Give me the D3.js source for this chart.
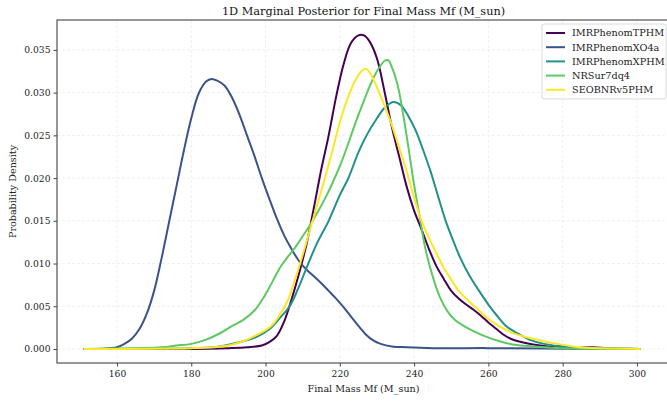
<!DOCTYPE html>
<html>
<head>
<meta charset="utf-8">
<script src="https://cdn.jsdelivr.net/npm/d3@7"></script>
<style>
  body { margin: 0; background: #fff; }
  svg { display: block; font-family: "DejaVu Serif", serif; }
</style>
</head>
<body>
<svg id="chart" width="667" height="401"></svg>
<script>
// series names (legend order)
const seriesNames = ["IMRPhenomTPHM", "IMRPhenomXO4a", "IMRPhenomXPHM", "NRSur7dq4", "SEOBNRv5PHM"];
const seriesColors = ["#440154", "#3b528b", "#21918c", "#5ec962", "#fde725"];

const xTicks = [160, 180, 200, 220, 240, 260, 280, 300];
const yTicks = [0, 0.005, 0.010, 0.015, 0.020, 0.025, 0.030, 0.035];

// [final mass, density]
const tphm = [[151,0],[180,0],[190,0.0001],[195,0.0002],[199,0.0004],[201,0.0008],[203,0.0015],[205,0.0032],
  [207,0.0058],[209,0.0088],[211,0.0122],[213,0.0165],[215,0.0210],[217,0.0250],[219,0.0295],[221,0.0333],
  [223,0.0358],[225,0.0367],[226.5,0.0367],[228,0.0360],[230,0.0340],[232,0.0302],[234,0.0260],[236,0.0225],
  [238,0.0190],[240,0.0162],[242,0.0140],[244,0.0117],[246,0.0097],[248,0.0082],[250,0.0068],[252,0.0059],
  [254,0.0052],[256,0.0046],[258,0.0039],[260,0.0031],[262,0.0024],[264,0.0017],[266,0.0012],[268,0.0009],
  [270,0.0007],[274,0.0004],[278,0.0002],[282,0.0001],[288,0.0002],[292,0.0001],[301,0]];

const xo4a = [[151,0],[155,0],[158,0.0001],[160,0.0002],[162,0.0006],[164,0.0012],[166,0.0023],[168,0.0041],
  [170,0.0068],[172,0.0106],[174,0.0148],[176,0.0190],[178,0.0232],[180,0.0270],[182,0.0299],[184,0.0313],
  [185.5,0.0316],[187,0.0314],[189,0.0308],[191,0.0294],[193,0.0274],[195,0.0250],[197,0.0226],[199,0.0200],
  [201,0.0176],[203,0.0153],[205,0.0133],[207,0.0117],[209,0.0103],[211,0.0093],[213,0.0085],[215,0.0077],
  [217,0.0068],[219,0.0059],[221,0.0049],[223,0.0038],[225,0.0027],[227,0.0017],[229,0.0010],[231,0.0006],
  [234,0.0003],[238,0.0002],[245,0.0001],[260,0.0001],[275,0.00005],[290,0],[301,0]];

const xphm = [[151,0],[180,0.0001],[186,0.0002],[190,0.0005],[194,0.0009],[198,0.0015],[201,0.0023],[204,0.0037],
  [206.5,0.0050],[209,0.0073],[211.5,0.0100],[214,0.0125],[217,0.0150],[220,0.0180],[222.3,0.0200],[225,0.0230],
  [227.2,0.0250],[230,0.0270],[232,0.0282],[234.4,0.0289],[236.5,0.0285],[238.5,0.0272],[240.5,0.0255],
  [242.5,0.0232],[244.5,0.0207],[246.5,0.0178],[248.5,0.0150],[250.5,0.0127],[252.5,0.0106],[255,0.0085],
  [257.5,0.0068],[260,0.0052],[262.5,0.0038],[265,0.0026],[268,0.0018],[271,0.0011],[275,0.0006],[280,0.0003],
  [285,0.0001],[290,0.0001],[301,0]];

const nrsur = [[151,0],[165,0.0001],[172,0.0002],[176,0.0004],[180,0.0006],[184,0.0011],[188,0.0019],[191,0.0027],
  [194,0.0034],[197,0.0045],[200,0.0064],[202,0.0080],[204,0.0096],[206,0.0108],[208,0.0119],[210,0.0132],
  [212,0.0145],[214,0.0160],[216,0.0176],[218,0.0194],[220,0.0214],[222,0.0237],[224,0.0262],[226,0.0285],
  [228,0.0307],[230,0.0325],[232,0.0337],[233,0.0338],[234,0.0330],[235.5,0.0310],[237,0.0276],[238.5,0.0235],
  [240,0.0192],[241.5,0.0155],[243,0.0118],[245,0.0085],[247,0.0060],[249,0.0044],[251,0.0034],[253,0.0028],
  [256,0.0021],[259,0.0015],[263,0.0009],[267,0.0005],[272,0.0003],[280,0.0001],[301,0]];

const seob = [[151,0],[180,0.0001],[186,0.0002],[190,0.0004],[194,0.0009],[197,0.0015],[200,0.0022],[202,0.0029],
  [204,0.0041],[206,0.0057],[208,0.0082],[210,0.0110],[212,0.0140],[214,0.0170],[216,0.0200],[218,0.0232],
  [220,0.0265],[222,0.0292],[224,0.0313],[226,0.0326],[227,0.0328],[228,0.0324],[230,0.0306],[232,0.0285],
  [234,0.0262],[236,0.0235],[238,0.0208],[240,0.0177],[242,0.0150],[244,0.0130],[246,0.0112],[248,0.0095],
  [250,0.0081],[252,0.0068],[254,0.0059],[256,0.0051],[258,0.0043],[260,0.0035],[262,0.0029],[264,0.0024],
  [267,0.0018],[270,0.0014],[273,0.0011],[276,0.0008],[280,0.0005],[284,0.0002],[290,0.0001],[301,0]];

const seriesData = [tphm, xo4a, xphm, nrsur, seob];

const svg = d3.select("#chart");
const margin = {left: 57, top: 20, right: 670, bottom: 363};

const x = d3.scaleLinear().domain([143.85, 308.9]).range([margin.left, margin.right]);
const y = d3.scaleLinear().domain([-0.00164, 0.0385]).range([margin.bottom, margin.top]);

// grid
svg.append("g")
  .selectAll("line")
  .data(xTicks)
  .join("line")
  .attr("x1", d => x(d)).attr("x2", d => x(d))
  .attr("y1", margin.top).attr("y2", margin.bottom)
  .attr("stroke", "#ebebeb").attr("stroke-width", 0.8).attr("stroke-dasharray", "3,2");
svg.append("g")
  .selectAll("line")
  .data(yTicks)
  .join("line")
  .attr("x1", margin.left).attr("x2", margin.right)
  .attr("y1", d => y(d)).attr("y2", d => y(d))
  .attr("stroke", "#ebebeb").attr("stroke-width", 0.8).attr("stroke-dasharray", "3,2");

// curves
const line = d3.line()
  .x(d => x(d[0]))
  .y(d => y(d[1]))
  .curve(d3.curveCatmullRom.alpha(0.5));

svg.append("g")
  .selectAll("path")
  .data(seriesData)
  .join("path")
  .attr("fill", "none")
  .attr("stroke", (d, i) => seriesColors[i])
  .attr("stroke-width", 2)
  .attr("stroke-linejoin", "round")
  .attr("d", line);

// axes
const xAxis = svg.append("g")
  .attr("transform", "translate(0," + margin.bottom + ")")
  .call(d3.axisBottom(x).tickValues(xTicks).tickSize(3.5).tickPadding(4).tickFormat(d3.format("d")));
const yAxis = svg.append("g")
  .attr("transform", "translate(" + margin.left + ",0)")
  .call(d3.axisLeft(y).tickValues(yTicks).tickSize(3.5).tickPadding(3).tickFormat(d3.format(".3f")));

[xAxis, yAxis].forEach(a => {
  a.select(".domain").remove();
  a.selectAll("text").attr("font-family", "DejaVu Serif, serif").attr("font-size", 9.2).attr("fill", "#222");
  a.selectAll("line").attr("stroke", "#444");
});

// frame
svg.append("rect")
  .attr("x", margin.left).attr("y", margin.top)
  .attr("width", margin.right - margin.left).attr("height", margin.bottom - margin.top)
  .attr("fill", "none").attr("stroke", "#444").attr("stroke-width", 1.1);

// labels
svg.append("text")
  .attr("x", (margin.left + margin.right) / 2).attr("y", 15)
  .attr("text-anchor", "middle").attr("font-size", 11.3).attr("fill", "#111")
  .text("1D Marginal Posterior for Final Mass Mf (M_sun)");
svg.append("text")
  .attr("x", (margin.left + margin.right) / 2).attr("y", 392)
  .attr("text-anchor", "middle").attr("font-size", 9.6).attr("fill", "#222")
  .text("Final Mass Mf (M_sun)");
svg.append("text")
  .attr("transform", "translate(16," + ((margin.top + margin.bottom) / 2) + ") rotate(-90)")
  .attr("text-anchor", "middle").attr("font-size", 9.6).attr("fill", "#222")
  .text("Probability Density");

// legend
const legend = svg.append("g").attr("transform", "translate(542,24)");
legend.append("rect")
  .attr("width", 124).attr("height", 75).attr("rx", 2)
  .attr("fill", "#fff").attr("fill-opacity", 0.85)
  .attr("stroke", "#d0d0d0").attr("stroke-width", 0.8);
const items = legend.selectAll("g.item")
  .data(seriesNames)
  .join("g")
  .attr("class", "item")
  .attr("transform", (d, i) => "translate(0," + (9 + i * 14.2) + ")");
items.append("line")
  .attr("x1", 4).attr("x2", 23)
  .attr("stroke", (d, i) => seriesColors[i]).attr("stroke-width", 2);
items.append("text")
  .attr("x", 30).attr("dy", "0.35em")
  .attr("font-size", 9.7).attr("fill", "#222")
  .text(d => d);
</script>
</body>
</html>
